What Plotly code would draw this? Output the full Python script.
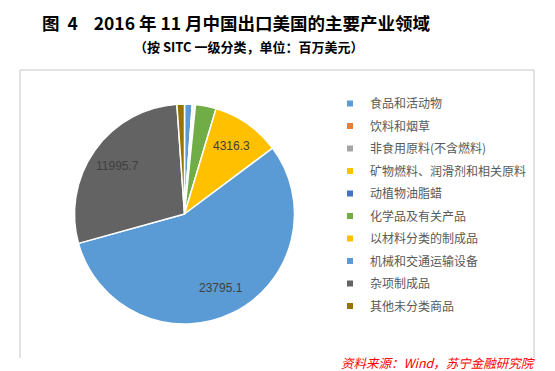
import math
import plotly.graph_objects as go

categories = ["食品和活动物", "饮料和烟草", "非食用原料(不含燃料)", "矿物燃料、润滑剂和相关原料",
              "动植物油脂蜡", "化学品及有关产品", "以材料分类的制成品", "机械和交通运输设备",
              "杂项制成品", "其他未分类商品"]
values = [480, 25, 110, 60, 5, 1290, 4316.3, 23795.1, 11995.7, 470]
colors = ["#5B9BD5", "#ED7D31", "#A5A5A5", "#FFC000", "#4472C4", "#70AD47",
          "#FFC000", "#5B9BD5", "#636363", "#997300"]
labels_shown = [f"{v:.1f}" if v > 4000 else "" for v in values]

W, H = 555, 371
def px(x): return x / W
def py(y): return 1 - y / H

CX, CY, R = 176.5, 206, 110

fig = go.Figure()
fig.add_trace(go.Pie(
    labels=categories, values=values,
    textinfo="none",
    marker=dict(colors=colors, line=dict(color="white", width=1.5)),
    sort=False, direction="clockwise", rotation=0,
    domain=dict(x=[px(CX - R), px(CX + R)], y=[py(CY + R), py(CY - R)]),
    showlegend=False, hoverinfo="label+value",
))

for i, (c, col) in enumerate(zip(categories, colors)):
    fig.add_trace(go.Scatter(
        x=[None], y=[None], mode="markers", name=c, legendgroup=f"g{i}",
        marker=dict(symbol="square", size=6, color=col), showlegend=True,
    ))

# data labels placed at the middle angle of each labelled slice
total = sum(values)
annotations = []
cum = 0.0
for v, t in zip(values, labels_shown):
    mid = (cum + v / 2) / total * 2 * math.pi
    cum += v
    if t:
        lx = CX + 0.75 * R * math.sin(mid)
        ly = CY - 0.75 * R * math.cos(mid)
        annotations.append(dict(text=t, x=px(lx), y=py(ly), xref="paper", yref="paper",
                                showarrow=False, xanchor="center", yanchor="middle",
                                font=dict(size=12, color="#404040", family="Liberation Sans, Arial")))

line_col = "#D9D9D9"
shapes = [
    dict(type="line", xref="paper", yref="paper", x0=px(12), x1=px(12), y0=py(62), y1=py(350),
         line=dict(color=line_col, width=1.5)),
    dict(type="line", xref="paper", yref="paper", x0=px(12), x1=px(526), y0=py(62), y1=py(62),
         line=dict(color=line_col, width=1.5)),
    dict(type="line", xref="paper", yref="paper", x0=px(526), x1=px(526), y0=py(62), y1=py(350),
         line=dict(color=line_col, width=1.5)),
]

annotations += [
    dict(text="<b>图&nbsp;&nbsp;4&nbsp;&nbsp;&nbsp;&nbsp;2016 年 11 月中国出口美国的主要产业领域</b>",
         x=px(228), y=1,
         xref="paper", yref="paper", showarrow=False, xanchor="center", yanchor="top",
         font=dict(size=17.5, color="black", family="Noto Sans CJK SC")),
    dict(text="<b>（按 SITC 一级分类，单位：百万美元）</b>", x=px(241), y=py(39),
         xref="paper", yref="paper", showarrow=False, xanchor="center", yanchor="middle",
         font=dict(size=13, color="black", family="Noto Sans CJK SC")),
    dict(text="<i>资料来源：Wind，苏宁金融研究院</i>", x=px(530), y=py(354),
         xref="paper", yref="paper", showarrow=False, xanchor="right", yanchor="middle",
         font=dict(size=12.5, color="#FF0000", family="Noto Sans CJK SC")),
]

fig.update_layout(
    width=W, height=H, margin=dict(l=0, r=0, t=0, b=0),
    paper_bgcolor="white", plot_bgcolor="white",
    xaxis=dict(visible=False), yaxis=dict(visible=False),
    font=dict(family="Noto Sans CJK SC", color="#595959"),
    shapes=shapes,
    legend=dict(x=px(322), y=py(81), xanchor="left", yanchor="top",
                font=dict(size=12, color="#595959", family="Noto Sans CJK SC"),
                tracegroupgap=3.5, bgcolor="rgba(0,0,0,0)", itemclick=False),
    annotations=annotations,
)

fig.write_html("out.html")
